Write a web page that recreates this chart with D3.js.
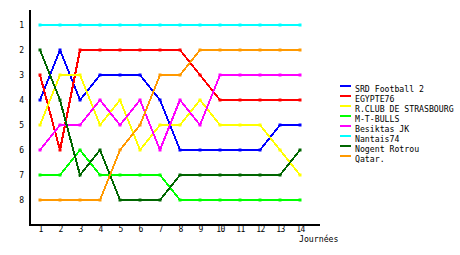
<!DOCTYPE html>
<html>
<head>
<meta charset="utf-8">
<script src="https://cdn.jsdelivr.net/npm/d3@7"></script>
<style>
  html, body { margin: 0; padding: 0; background: #fff; }
  svg { display: block; }
  text { font-family: "DejaVu Sans Mono", monospace; fill: #000; }
</style>
</head>
<body>
<svg id="chart" width="460" height="255"></svg>
<script>
const rounds = [1,2,3,4,5,6,7,8,9,10,11,12,13,14];
const ranks = [1,2,3,4,5,6,7,8];
const teams = ["SRD Football 2","EGYPTE76","R.CLUB DE STRASBOURG","M-T-BULLS","Besiktas JK","Nantais74","Nogent Rotrou","Qatar."];
const colors = ["#0000ff","#ff0000","#ffff00","#00ff00","#ff00ff","#00ffff","#006600","#ff9900"];
const srd      = [4,2,4,3,3,3,4,6,6,6,6,6,5,5];
const egypte   = [3,6,2,2,2,2,2,2,3,4,4,4,4,4];
const rclub    = [5,3,3,5,4,6,5,5,4,5,5,5,6,7];
const mtbulls  = [7,7,6,7,7,7,7,8,8,8,8,8,8,8];
const besiktas = [6,5,5,4,5,4,6,4,5,3,3,3,3,3];
const nantais  = [1,1,1,1,1,1,1,1,1,1,1,1,1,1];
const nogent   = [2,4,7,6,8,8,8,7,7,7,7,7,7,6];
const qatar    = [8,8,8,8,6,5,3,3,2,2,2,2,2,2];
const xLabel = "Journées";

const series = [srd, egypte, rclub, mtbulls, besiktas, nantais, nogent, qatar];

const svg = d3.select("#chart");
const x = d3.scaleLinear().domain([1,14]).range([40,300]);
const y = d3.scaleLinear().domain([1,8]).range([25,200]);

// axes lines
svg.append("line")
  .attr("x1", x(0.5)).attr("x2", x(0.5))
  .attr("y1", y(0.4)).attr("y2", y(9) + 0.5)
  .attr("stroke", "#000").attr("stroke-width", 1.5).attr("shape-rendering", "crispEdges");
svg.append("line")
  .attr("x1", x(0.5)).attr("x2", x(15))
  .attr("y1", y(9)).attr("y2", y(9))
  .attr("stroke", "#000").attr("stroke-width", 1.5).attr("shape-rendering", "crispEdges");

// y axis tick labels
const yAxis = svg.append("g")
  .attr("transform", `translate(${x(0.5)},0)`)
  .call(d3.axisLeft(y).tickValues(ranks).tickSize(0).tickPadding(6).tickFormat(d3.format("d")));
yAxis.select(".domain").remove();
yAxis.selectAll("text").style("font-family", '"DejaVu Sans Mono", monospace').style("font-size", "8px");

// x axis tick labels
const xAxis = svg.append("g")
  .attr("transform", `translate(0,${y(9)})`)
  .call(d3.axisBottom(x).tickValues(rounds).tickSize(0).tickPadding(1).tickFormat(d3.format("d")));
xAxis.select(".domain").remove();
xAxis.selectAll("text").style("font-family", '"DejaVu Sans Mono", monospace').style("font-size", "8px").attr("letter-spacing", "-0.6");

svg.append("text")
  .attr("x", x(14) - 1).attr("y", 242)
  .style("font-size", "8.2px")
  .text(xLabel);

// lines
const line = d3.line().x((d,i) => x(rounds[i])).y(d => y(d));
series.forEach((s, k) => {
  const g = svg.append("g");
  g.append("path")
    .datum(s)
    .attr("d", line)
    .attr("fill", "none")
    .attr("stroke", colors[k])
    .attr("stroke-width", 2)
    .attr("shape-rendering", "crispEdges");
  g.selectAll("rect").data(s).enter().append("rect")
    .attr("x", (d,i) => x(rounds[i]) - 1.5)
    .attr("y", d => y(d) - 1.5)
    .attr("width", 3).attr("height", 3)
    .attr("fill", colors[k]);
});

// legend
const leg = svg.append("g");
teams.forEach((t, i) => {
  const yy = 86 + i * 10;
  leg.append("line")
    .attr("x1", 340).attr("x2", 351)
    .attr("y1", yy).attr("y2", yy)
    .attr("stroke", colors[i]).attr("stroke-width", 2)
    .attr("shape-rendering", "crispEdges");
  leg.append("text")
    .attr("x", 355).attr("y", yy + 6)
    .style("font-size", "8.2px")
    .text(t);
});
</script>
</body>
</html>
